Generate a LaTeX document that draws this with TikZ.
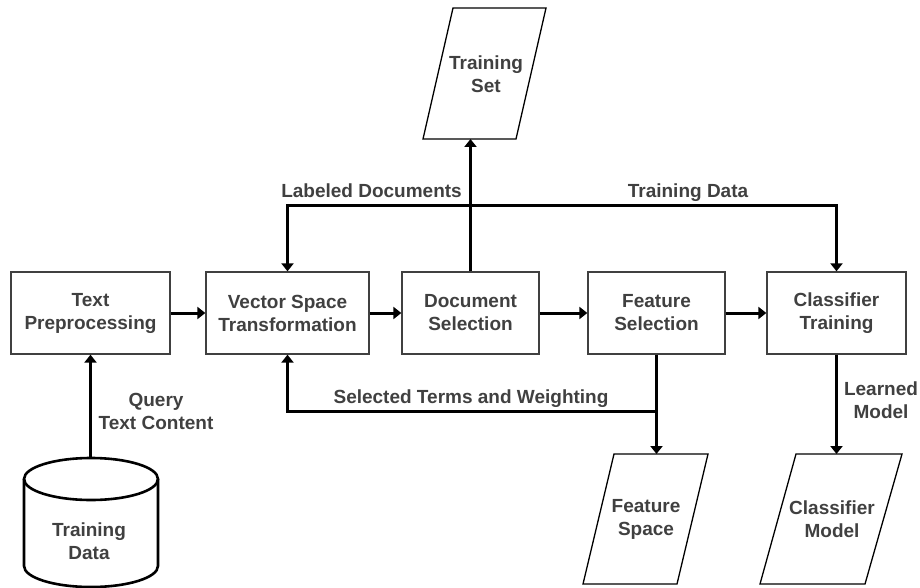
\documentclass[tikz,border=0pt]{standalone}
\usepackage{fontspec}
\setmainfont{Liberation Sans}
\usetikzlibrary{arrows.meta}
\definecolor{txt}{HTML}{404040}
\begin{document}
\begin{tikzpicture}[x=1pt,y=-1pt,
  lbl/.style={font=\fontsize{19}{23}\selectfont\bfseries, text=txt, align=center, inner sep=0pt},
  proc/.style={lbl, draw=txt, line width=1.3pt, minimum height=82pt},
  io/.style={draw=black, line width=1.3pt, line join=miter},
  conn/.style={line width=3pt, -{Triangle[length=8pt,width=12pt]}},
  plain/.style={line width=3pt}]
\useasboundingbox (0,0) rectangle (920,588);

% process boxes
\node[proc, minimum width=159pt] (tp) at (90.5,313) {Text\\Preprocessing};
\node[proc, minimum width=163pt] (vs) at (287.5,313) {Vector Space\\Transformation};
\node[proc, minimum width=137pt] (ds) at (470.5,313) {Document\\Selection};
\node[proc, minimum width=137pt] (fs) at (656.5,313) {Feature\\Selection};
\node[proc, minimum width=139pt] (ct) at (836.5,313) {Classifier\\Training};

% data (parallelograms)
\draw[io] (453,8) -- (546,8) -- (516,139) -- (423,139) -- cycle;
\node[lbl] (tsl) at (486,74) {Training\\Set};
\coordinate (tsb) at (470.5,139);

\draw[io] (614,454) -- (708,454) -- (677,584) -- (583,584) -- cycle;
\node[lbl] (fsl) at (646,519) {Feature\\Space};
\coordinate (fspt) at (656.5,454);

\draw[io] (796,454) -- (902,454) -- (865,584) -- (760,584) -- cycle;
\node[lbl] (cml) at (832,519) {Classifier\\Model};
\coordinate (cmt) at (836.5,454);

% database cylinder
\draw[line width=2.6pt] (24,479) -- (24,566) arc[start angle=180, end angle=360, x radius=67pt, y radius=21pt] -- (158,479);
\draw[line width=2.6pt] (91,479) ellipse [x radius=67pt, y radius=21pt];
\node[lbl] (tdl) at (89,541) {Training\\Data};
\coordinate (tdt) at (90.5,458);

% connectors
\draw[conn] (tp.east) -- (vs.west);
\draw[conn] (vs.east) -- (ds.west);
\draw[conn] (ds.east) -- (fs.west);
\draw[conn] (fs.east) -- (ct.west);
\draw[conn] (tdt) -- (tp.south);
\draw[conn] (ds.north) -- (tsb);
\coordinate (j) at (470.5,205);
\draw[conn] (j) -| (vs.north);
\draw[conn] (j) -| (ct.north);
\draw[conn] (fs.south) -- (fspt);
\coordinate (k) at (656.5,411);
\draw[conn] (k) -| (vs.south);
\draw[conn] (ct.south) -- (cmt);

% labels
\node[lbl, anchor=base east] (l1) at (462,197) {Labeled Documents};
\node[lbl, anchor=base] (l2) at (688,197) {Training Data};
\node[lbl, anchor=base] (l3) at (471,403) {Selected Terms and Weighting};
\node[lbl] (l4) at (156,411) {Query\\Text Content};
\node[lbl] (l5) at (881,400) {Learned\\Model};
\end{tikzpicture}
\end{document}
